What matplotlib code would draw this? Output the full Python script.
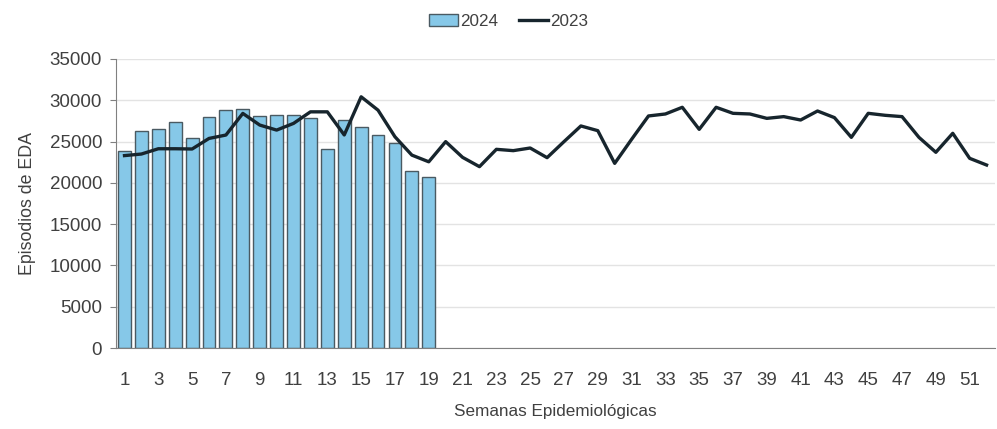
import numpy as np
import matplotlib
matplotlib.use('Agg')
import matplotlib.pyplot as plt

weeks = list(range(1, 53))

# 2024 episodes (weeks 1-19)
eda_2024 = [23850, 26270, 26510, 27320, 25380, 28000, 28810, 28930, 28080, 28170,
            28170, 27800, 24050, 27600, 26790, 25790, 24780, 21430, 20700]

# 2023 episodes (weeks 1-52)
eda_2023 = [23300, 23490, 24130, 24130, 24100, 25380, 25790, 28410, 27000, 26390,
            27200, 28600, 28600, 25800, 30420, 28800, 25580, 23360, 22550, 24990,
            23090, 21960, 24060, 23900, 24220, 23050, 24990, 26890, 26320, 22360,
            25270, 28100, 28340, 29150, 26480, 29150, 28420, 28340, 27810, 28020,
            27610, 28700, 27900, 25510, 28420, 28180, 28020, 25510, 23700, 26000,
            22970, 22160]

plt.rcParams['font.family'] = ['Liberation Sans', 'DejaVu Sans']
txt = '#404040'

fig = plt.figure(figsize=(9.97, 4.29), dpi=100)
ax = fig.add_axes([0.1164, 0.1888, 0.8816, 0.6737])

x_all = np.arange(len(weeks))
x_bar = np.arange(len(eda_2024))

bars = ax.bar(x_bar, eda_2024, width=0.76, color='#86c8e8', edgecolor='#4a5a62',
              linewidth=1.0, label='2024', zorder=2)
line, = ax.plot(x_all, eda_2023, color='#17252d', linewidth=2.4, label='2023', zorder=3)

ax.set_xlim(-0.5, len(weeks) - 0.5)
ax.set_ylim(0, 35000)
ax.set_yticks(np.arange(0, 35001, 5000))
ax.set_xticks(x_all[::2])
ax.set_xticklabels([str(w) for w in weeks[::2]])

ax.yaxis.grid(True, color='#e3e3e3', linewidth=1.0, zorder=0)
ax.set_axisbelow(True)
for s in ['top', 'right']:
    ax.spines[s].set_visible(False)
ax.spines['left'].set_color('#808080')
ax.spines['bottom'].set_color('#808080')
ax.tick_params(axis='y', colors=txt, labelsize=13.5, length=4, color='#808080', pad=6)
ax.tick_params(axis='x', colors=txt, labelsize=13.5, length=0, pad=17)

ax.set_ylabel('Episodios de EDA', fontsize=12.8, color=txt, labelpad=10)
ax.set_xlabel('Semanas Epidemiológicas', fontsize=12.3, color=txt, labelpad=11)

fig.legend([bars, line], ['2024', '2023'], loc='center', bbox_to_anchor=(0.51, 0.951),
           ncol=2, frameon=False, fontsize=12.3, handlelength=1.7, handletextpad=0.15,
           columnspacing=1.2, labelcolor=txt)

fig.savefig('out.png', dpi=100)
